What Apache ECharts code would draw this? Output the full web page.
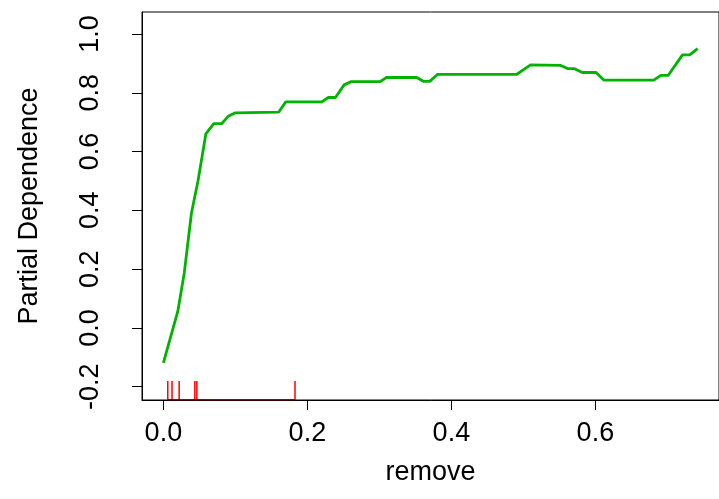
<!DOCTYPE html>
<html>
<head>
<meta charset="utf-8">
<script src="https://cdn.jsdelivr.net/npm/echarts@6/dist/echarts.min.js"></script>
<style>
html,body{margin:0;padding:0;background:#fff;}
#chart{width:719px;height:499px;}
</style>
</head>
<body>
<div id="chart"></div>
<script>
// Partial dependence curve
var removeX = [0.000, 0.020, 0.029, 0.039, 0.048, 0.059, 0.070, 0.081, 0.090, 0.100, 0.160, 0.170, 0.220, 0.229, 0.239, 0.251, 0.261, 0.301, 0.310, 0.352, 0.361, 0.370, 0.381, 0.491, 0.510, 0.552, 0.562, 0.571, 0.582, 0.601, 0.612, 0.681, 0.691, 0.701, 0.721, 0.731, 0.742];
var partialDep = [-0.119, 0.056, 0.187, 0.391, 0.499, 0.660, 0.695, 0.695, 0.720, 0.732, 0.734, 0.769, 0.769, 0.784, 0.784, 0.827, 0.838, 0.838, 0.852, 0.852, 0.839, 0.839, 0.863, 0.863, 0.895, 0.893, 0.882, 0.882, 0.869, 0.869, 0.843, 0.843, 0.859, 0.859, 0.929, 0.929, 0.950];
// Rug (deciles of remove)
var rugX = [0.0061, 0.012, 0.0219, 0.0437, 0.0465, 0.1828];
// Tick labels
var xTicks = [0.0, 0.2, 0.4, 0.6];
var yTicks = [-0.2, 0.0, 0.2, 0.4, 0.6, 0.8, 1.0];

var X_MIN = -0.0297, X_MAX = 0.7717;
var Y_MIN = -0.2453, Y_MAX = 1.0749;
var RUG_LEN = 0.0646;

var chart = echarts.init(document.getElementById('chart'), null, {renderer: 'canvas'});
var font = 'Liberation Sans, Arial, Helvetica, sans-serif';
var FS = 27;

var lineData = removeX.map(function (x, i) { return [x, partialDep[i]]; });
var rugData = rugX.map(function (x) { return [x]; });

chart.setOption({
  animation: false,
  backgroundColor: '#ffffff',
  grid: {
    left: 142, top: 12, width: 581, height: 388,
    show: true, borderColor: '#000', borderWidth: 1, backgroundColor: 'transparent'
  },
  xAxis: {
    type: 'value', min: X_MIN, max: X_MAX,
    name: 'remove', nameLocation: 'middle', nameGap: 59,
    nameTextStyle: {fontFamily: font, fontSize: FS, color: '#000'},
    splitLine: {show: false},
    axisLine: {show: true, onZero: false, lineStyle: {color: '#000', width: 1}},
    axisTick: {show: true, inside: false, length: 10, lineStyle: {color: '#000', width: 1}, customValues: xTicks},
    axisLabel: {
      fontFamily: font, fontSize: FS, color: '#000', margin: 20,
      customValues: xTicks,
      formatter: function (v) { return v.toFixed(1); }
    }
  },
  yAxis: {
    type: 'value', min: Y_MIN, max: Y_MAX,
    name: 'Partial Dependence', nameLocation: 'middle', nameGap: 99, nameRotate: 90,
    nameTextStyle: {fontFamily: font, fontSize: FS, color: '#000'},
    splitLine: {show: false},
    axisLine: {show: true, onZero: false, lineStyle: {color: '#000', width: 1}},
    axisTick: {show: true, inside: false, length: 10, lineStyle: {color: '#000', width: 1}, customValues: yTicks},
    axisLabel: {
      fontFamily: font, fontSize: FS, color: '#000', margin: 38, rotate: 90,
      customValues: yTicks,
      formatter: function (v) { return v.toFixed(1); }
    }
  },
  series: [
    {
      type: 'line', data: lineData, showSymbol: false, symbol: 'none',
      lineStyle: {color: '#00B300', width: 2.8}, z: 3
    },
    {
      type: 'custom', data: rugData, clip: false, z: 4,
      renderItem: function (params, api) {
        var v = api.value(0);
        var p0 = api.coord([v, Y_MIN]);
        var p1 = api.coord([v, Y_MIN + RUG_LEN]);
        return {
          type: 'line',
          shape: {x1: p0[0], y1: p0[1], x2: p1[0], y2: p1[1]},
          style: {stroke: '#FF0000', lineWidth: 1.5}
        };
      }
    },
    {
      type: 'line', clip: false, symbol: 'none', z: 5,
      data: [[Math.min.apply(null, rugX), Y_MIN], [Math.max.apply(null, rugX), Y_MIN]],
      lineStyle: {color: '#4a0000', width: 1.5}
    }
  ]
});
</script>
</body>
</html>
